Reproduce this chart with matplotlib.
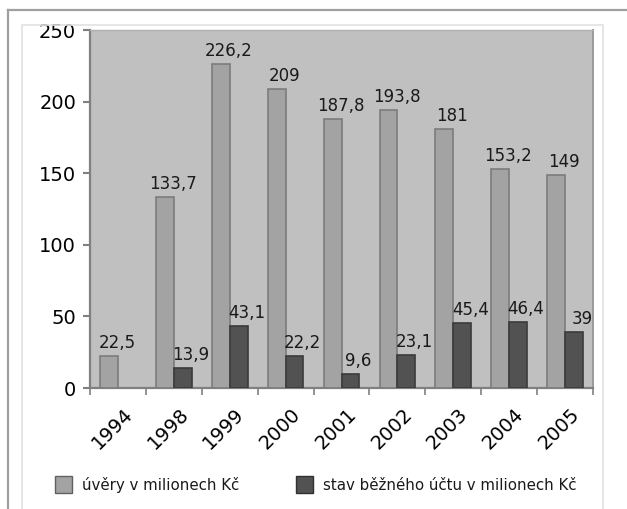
import matplotlib
matplotlib.use("Agg")
import matplotlib.pyplot as plt
from matplotlib.patches import Rectangle
from matplotlib.lines import Line2D
import matplotlib.transforms as mtransforms
import numpy as np

years = ["1994", "1998", "1999", "2000", "2001", "2002", "2003", "2004", "2005"]
uvery = [22.5, 133.7, 226.2, 209, 187.8, 193.8, 181, 153.2, 149]
stav = [None, 13.9, 43.1, 22.2, 9.6, 23.1, 45.4, 46.4, 39]
series_names = ["úvěry v milionech Kč", "stav běžného účtu v milionech Kč"]
yticks = [0, 50, 100, 150, 200, 250]

plt.rcParams['font.family'] = ['DejaVu Sans']

W, H = 627, 509
fig = plt.figure(figsize=(W / 100, H / 100), dpi=100)
fig.patch.set_facecolor('white')

def fx(px):
    return px / W

def fy(py):
    return 1 - py / H

# outer frame lines
fig.add_artist(Line2D([fx(8), fx(627)], [fy(10), fy(10)], color='#a0a0a0', lw=1.6))
fig.add_artist(Line2D([fx(8), fx(8)], [fy(10), fy(509)], color='#a0a0a0', lw=1.6))
# inner light box
fig.add_artist(Rectangle((fx(22), fy(520)), fx(603) - fx(22), fy(25) - fy(520),
                         fill=False, edgecolor='#e2e2e2', lw=1.2))

ax = fig.add_axes([fx(90), fy(388), fx(593) - fx(90), fy(30) - fy(388)])
ax.set_facecolor('#c0c0c0')

x = np.arange(len(years))
bw = 0.32
c_light, e_light = '#a3a3a3', '#7c7c7c'
c_dark, e_dark = '#525252', '#3a3a3a'

for i, v in enumerate(uvery):
    if v is None:
        continue
    ax.bar(x[i] - bw / 2, v, width=bw, color=c_light, edgecolor=e_light, linewidth=1.2, zorder=3)
    ax.annotate(f"{v:g}".replace('.', ','), (x[i] - bw / 2, v), xytext=(8, 8),
                textcoords='offset pixels', ha='center', va='baseline', fontsize=12, color='#1a1a1a')
for i, v in enumerate(stav):
    if v is None:
        continue
    ax.bar(x[i] + bw / 2, v, width=bw, color=c_dark, edgecolor=e_dark, linewidth=1.2, zorder=3)
    ax.annotate(f"{v:g}".replace('.', ','), (x[i] + bw / 2, v), xytext=(8, 8),
                textcoords='offset pixels', ha='center', va='baseline', fontsize=12, color='#1a1a1a')

ax.set_xlim(-0.5, len(years) - 0.5)
ax.set_ylim(0, 250)
ax.set_yticks(yticks)
ax.set_yticklabels([str(t) for t in yticks], fontsize=14)
ax.tick_params(axis='y', length=5, width=1.5, color='#808080', pad=5)

ax.set_xticks(x)
ax.set_xticklabels(years, fontsize=14, rotation=45, ha='right', va='top', rotation_mode='anchor')
ax.set_xticks(np.arange(len(years) + 1) - 0.5, minor=True)
ax.tick_params(axis='x', which='major', length=0, pad=12)
ax.tick_params(axis='x', which='minor', length=5, width=1.2, color='#808080')
shift = mtransforms.ScaledTranslation(5 / 100, 0, fig.dpi_scale_trans)
for lab in ax.get_xticklabels():
    lab.set_transform(lab.get_transform() + shift)

for s in ['left', 'bottom']:
    ax.spines[s].set_color('#808080')
    ax.spines[s].set_linewidth(1.6)
ax.spines['right'].set_color('#9a9a9a')
ax.spines['right'].set_linewidth(1.4)
ax.spines['top'].set_color('#b0b0b0')
ax.spines['top'].set_linewidth(1.0)

# legend (manual)
leg_items = [(55, c_light, '#606060', series_names[0]), (296, c_dark, '#303030', series_names[1])]
for px, fc, ec, name in leg_items:
    fig.add_artist(Rectangle((fx(px), fy(493)), fx(17), 17 / H, facecolor=fc, edgecolor=ec, lw=1.0))
    fig.text(fx(px + 27), fy(485), name, fontsize=10.8, va='center', ha='left', color='#1a1a1a')

fig.savefig('out.png', dpi=100, facecolor='white')
